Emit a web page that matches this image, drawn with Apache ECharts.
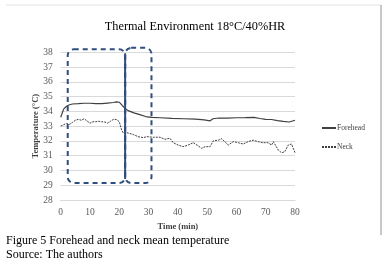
<!DOCTYPE html>
<html>
<head>
<meta charset="utf-8">
<script src="https://cdn.jsdelivr.net/npm/echarts@6/dist/echarts.min.js"></script>
<style>
  html, body { margin: 0; padding: 0; background: #fff; }
  #chart { width: 386px; height: 267px; }
</style>
</head>
<body>
<div id="chart"></div>
<script>
// forehead series (time min, temperature)
var foreheadTime = [0, 1, 2, 3, 4, 6, 8, 10, 12, 14, 16, 18, 19, 20, 21, 22, 23, 25, 27, 29, 31, 34, 38, 42, 46, 49, 51, 52, 54, 57, 60, 63, 66, 68, 70, 72, 74, 76, 78, 80];
var foreheadTemp = [33.6, 34.15, 34.35, 34.45, 34.5, 34.52, 34.55, 34.55, 34.53, 34.52, 34.56, 34.6, 34.64, 34.62, 34.4, 34.2, 34.05, 33.9, 33.78, 33.65, 33.6, 33.57, 33.53, 33.5, 33.47, 33.42, 33.36, 33.5, 33.55, 33.54, 33.57, 33.58, 33.6, 33.52, 33.46, 33.45, 33.38, 33.32, 33.28, 33.4];
// neck series
var neckTime = [0, 1, 2, 3, 4, 5, 6, 7, 8, 9, 10, 11, 12, 13, 14, 15, 16, 17, 18, 19, 20, 20.8, 21.4, 22.5, 23.6, 24.8, 26.4, 28.2, 29.4, 31.6, 33.9, 35.6, 37.3, 38.4, 40.1, 41.8, 43.5, 45.3, 47, 48.1, 49.3, 51, 52.1, 53.8, 55, 56, 57.2, 58.9, 60.6, 62.3, 64, 65.7, 67.4, 69.1, 70.8, 72, 72.6, 74.3, 75.4, 76.5, 77.7, 78.8, 80];
var neckTemp = [33.0, 33.1, 33.18, 33.12, 33.25, 33.4, 33.46, 33.4, 33.5, 33.35, 33.2, 33.3, 33.3, 33.33, 33.3, 33.28, 33.2, 33.33, 33.46, 33.45, 33.3, 32.74, 32.52, 32.56, 32.5, 32.43, 32.29, 32.22, 32.29, 32.25, 32.25, 32.11, 32.18, 31.88, 31.72, 31.61, 31.72, 31.88, 31.66, 31.5, 31.61, 31.61, 32.0, 32.05, 32.15, 31.95, 31.72, 31.95, 31.88, 31.79, 31.95, 32.05, 31.95, 31.88, 31.88, 31.72, 31.95, 31.38, 31.2, 31.27, 31.72, 31.79, 31.2];
// dashed highlight boxes (time from/to, temp low/high)
var boxStart = [2.4, 22];
var boxEnd = [22, 31];
var boxLow = [29.15, 29.15];
var boxHigh = [38.2, 38.3];
var dividerTime = 22;

function pairs(xs, ys) {
  var out = [];
  for (var i = 0; i < xs.length; i++) {
    out.push([xs[i], ys[i]]);
  }
  return out;
}

var boxData = [];
for (var i = 0; i < boxStart.length; i++) {
  boxData.push([boxStart[i], boxEnd[i], boxLow[i], boxHigh[i]]);
}

var serif = '"Liberation Serif", "DejaVu Serif", serif';
var boxColor = '#2f4d7d';

var myChart = echarts.init(document.getElementById('chart'));
var option = {
  animation: false,
  textStyle: { fontFamily: serif },
  title: {
    text: 'Thermal Environment 18°C/40%HR',
    left: 190,
    textAlign: 'center',
    top: 16,
    textStyle: { fontFamily: serif, fontSize: 12.3, fontWeight: 'normal', color: '#000' }
  },
  legend: {
    data: ['Forehead', 'Neck'],
    orient: 'vertical',
    left: 316,
    top: 119,
    itemGap: 11,
    itemWidth: 14,
    itemHeight: 2,
    textStyle: { fontFamily: serif, fontSize: 7.5, color: '#404040', padding: [0, 0, 0, -4] }
  },
  grid: { left: 60.7, right: 91, top: 52.3, bottom: 67 },
  xAxis: {
    type: 'value',
    min: 0,
    max: 80,
    interval: 10,
    name: 'Time (min)',
    nameLocation: 'middle',
    nameGap: 19,
    nameTextStyle: { fontFamily: serif, fontSize: 8.5, fontWeight: 'bold', color: '#404040' },
    axisLine: { show: true, lineStyle: { color: '#d9d9d9' } },
    axisTick: { show: false },
    axisLabel: { fontFamily: serif, fontSize: 9.5, color: '#595959', margin: 7 },
    splitLine: { show: false }
  },
  yAxis: {
    type: 'value',
    min: 28,
    max: 38,
    interval: 1,
    name: 'Temperature (°C)',
    nameLocation: 'middle',
    nameGap: 20,
    nameMoveOverlap: false,
    nameTextStyle: { fontFamily: serif, fontSize: 8.5, fontWeight: 'bold', color: '#404040' },
    axisLine: { show: false },
    axisTick: { show: false },
    axisLabel: { fontFamily: serif, fontSize: 9.5, color: '#595959', margin: 8 },
    splitLine: { lineStyle: { color: '#d9d9d9', width: 1 } }
  },
  series: [
    {
      name: 'Forehead',
      type: 'line',
      symbol: 'none',
      data: pairs(foreheadTime, foreheadTemp),
      lineStyle: { color: '#404040', width: 1.2 },
      itemStyle: { color: '#404040' },
      z: 3
    },
    {
      name: 'Neck',
      type: 'line',
      symbol: 'none',
      data: pairs(neckTime, neckTemp),
      lineStyle: { color: '#404040', width: 1, type: [2, 1] },
      itemStyle: { color: '#404040' },
      z: 3
    },
    {
      name: 'boxes',
      type: 'custom',
      silent: true,
      z: 5,
      data: boxData,
      renderItem: function (params, api) {
        var tl = api.coord([api.value(0), api.value(3)]);
        var br = api.coord([api.value(1), api.value(2)]);
        return {
          type: 'rect',
          shape: { x: tl[0], y: tl[1], width: br[0] - tl[0], height: br[1] - tl[1], r: 6 },
          style: { fill: 'none', stroke: boxColor, lineWidth: 2, lineDash: [5, 4] }
        };
      }
    },
    {
      name: 'divider',
      type: 'custom',
      silent: true,
      z: 6,
      data: [[dividerTime, boxLow[0], boxHigh[0]]],
      renderItem: function (params, api) {
        var top = api.coord([api.value(0), api.value(2)]);
        var bot = api.coord([api.value(0), api.value(1)]);
        return {
          type: 'line',
          shape: { x1: top[0], y1: top[1] + 4, x2: bot[0], y2: bot[1] - 4 },
          style: { stroke: boxColor, lineWidth: 2 }
        };
      }
    }
  ],
  graphic: [
    { type: 'line', shape: { x1: 6, y1: 5, x2: 381, y2: 5 }, style: { stroke: '#e3e3e3', lineWidth: 1 } },
    { type: 'line', shape: { x1: 381, y1: 5, x2: 381, y2: 235 }, style: { stroke: '#c8c8c8', lineWidth: 2 } },
    { type: 'text', left: 6, top: 235, style: { text: 'Figure 5 Forehead and neck mean temperature', font: '12px ' + serif, fill: '#000' } },
    { type: 'text', left: 6, top: 249, style: { text: 'Source: The authors', font: '12px ' + serif, fill: '#000' } }
  ]
};
myChart.setOption(option);
</script>
</body>
</html>
